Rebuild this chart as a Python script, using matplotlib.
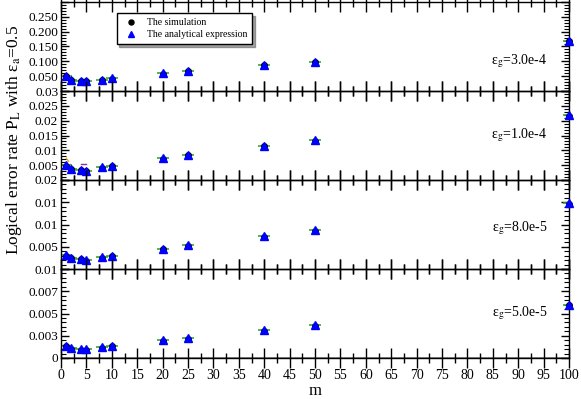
import numpy as np
import matplotlib
matplotlib.use("Agg")
import matplotlib.pyplot as plt
from matplotlib.ticker import MultipleLocator

plt.rcParams['font.family'] = ['Liberation Serif', 'DejaVu Serif']
plt.rcParams['mathtext.fontset'] = 'stix'

# m values (x axis)
m = [1, 2, 4, 5, 8, 10, 20, 25, 40, 50, 100]

# analytical expression, one list per eps_g
ana_3e4 = [0.051, 0.038, 0.035, 0.034, 0.038, 0.044, 0.061, 0.068, 0.089, 0.099, 0.170]
ana_1e4 = [0.0049, 0.0038, 0.0035, 0.0032, 0.0044, 0.0048, 0.0074, 0.0085, 0.0116, 0.0135, 0.0219]
ana_8e5 = [0.0031, 0.0025, 0.0023, 0.0021, 0.0026, 0.0030, 0.0046, 0.0054, 0.0074, 0.0088, 0.0148]
ana_5e5 = [0.0014, 0.0011, 0.0010, 0.0010, 0.0012, 0.0014, 0.0020, 0.0022, 0.0031, 0.0037, 0.0060]

# simulation results
sim_3e4 = [0.049, 0.036, 0.033, 0.033, 0.036, 0.041, 0.058, 0.066, 0.087, 0.098, 0.168]
sim_1e4 = [0.0047, 0.0036, 0.0033, 0.0030, 0.0042, 0.0046, 0.0072, 0.0083, 0.0113, 0.0133, 0.0217]
sim_8e5 = [0.0030, 0.0024, 0.0022, 0.0019, 0.0025, 0.0029, 0.0044, 0.0052, 0.0072, 0.0086, 0.0146]
sim_5e5 = [0.0013, 0.0010, 0.0009, 0.0009, 0.0011, 0.0013, 0.0019, 0.0021, 0.0030, 0.0036, 0.0059]

# small extra segments seen in the eps_g=1.0e-4 panel
orange_m = [1, 2]
orange_v = [0.0075, 0.0050]
purple_m = [4, 5]
purple_v = [0.0055, 0.0055]

eps_labels = ['3.0e-4', '1.0e-4', '8.0e-5', '5.0e-5']
ylims = [0.3, 0.03, 0.02, 0.01]
ymajor = [0.05, 0.005, 0.005, 0.0025]
yminor = [0.01, 0.001, 0.001, 0.0005]
yticklabels = [
    ['', '0.050', '0.100', '0.150', '0.200', '0.250', ''],
    ['', '0.005', '0.01', '0.015', '0.02', '0.025', '0.03'],
    ['', '0.005', '0.01', '0.01', '0.02'],
    ['0', '0.003', '0.005', '0.007', '0.01'],
]
sims = [sim_3e4, sim_1e4, sim_8e5, sim_5e5]
anas = [ana_3e4, ana_1e4, ana_8e5, ana_5e5]
text_y = [0.34, 0.5, 0.46, 0.5]

fig = plt.figure(figsize=(5.81, 3.99), dpi=100)
left, width = 61 / 581, 508 / 581
h = 89 / 399
bottom0 = 1 - 358 / 399

axes = []
for i in range(4):
    b = bottom0 + (3 - i) * h
    ax = fig.add_axes([left, b, width, h], facecolor='none')
    axes.append(ax)

    ax.plot(m, anas[i], linestyle='none', marker='_', color='#33aa33',
            markersize=9, markeredgewidth=1.2, zorder=2)
    ax.plot(m, sims[i], linestyle='none', marker='o', color='black',
            markersize=4, zorder=3, label='The simulation', clip_on=False)
    ax.plot(m, anas[i], linestyle='none', marker='^', color='blue',
            markersize=5.5, zorder=4, label='The analytical expression', clip_on=False)
    if i == 1:
        ax.plot(orange_m, orange_v, color='orange', linestyle='--', lw=1, zorder=1)
        ax.plot(purple_m, purple_v, color='#8833aa', lw=1, zorder=1)
    if i == 3:
        ax.axhline(0, color='gray', lw=2, zorder=1)

    ax.set_xlim(0, 100)
    ax.set_ylim(0, ylims[i])
    ax.xaxis.set_major_locator(MultipleLocator(5))
    ax.xaxis.set_minor_locator(MultipleLocator(2.5))
    ticks = np.arange(len(yticklabels[i])) * ymajor[i]
    ax.set_yticks(ticks)
    ax.set_yticklabels(yticklabels[i])
    ax.yaxis.set_minor_locator(MultipleLocator(yminor[i]))

    ax.tick_params(axis='x', which='major', direction='inout', length=14, width=1,
                   top=True, bottom=True, labelsize=10, pad=1)
    ax.tick_params(axis='x', which='minor', direction='inout', length=7, width=1,
                   top=True, bottom=True)
    ax.tick_params(axis='y', which='major', direction='in', length=6, width=1,
                   left=True, right=True, labelsize=9.5, pad=2)
    ax.tick_params(axis='y', which='minor', direction='in', length=3.5, width=0.8,
                   left=True, right=True)
    if i < 3:
        ax.tick_params(axis='x', labelbottom=False)
    for s in ax.spines.values():
        s.set_linewidth(1)

    ax.text(0.958, text_y[i], r'ε$_{\rm g}$=' + eps_labels[i], transform=ax.transAxes,
            ha='right', va='center', fontsize=10)

axes[0].legend(loc='upper left', bbox_to_anchor=(0.1, 0.93), fontsize=7,
               frameon=True, fancybox=False, edgecolor='black', shadow=True,
               handletextpad=0.6, borderpad=0.5, labelspacing=0.35, markerscale=0.9)

fig.text(315 / 581, 1 - 391 / 399, 'm', ha='center', va='center', fontsize=12)
fig.text(14 / 581, 1 - 140 / 399, r'Logical error rate P$_{\rm L}$ with ε$_{\rm a}$=0.5',
         rotation=90, ha='center', va='center', fontsize=12.5)

fig.savefig('out.png', dpi=100)
